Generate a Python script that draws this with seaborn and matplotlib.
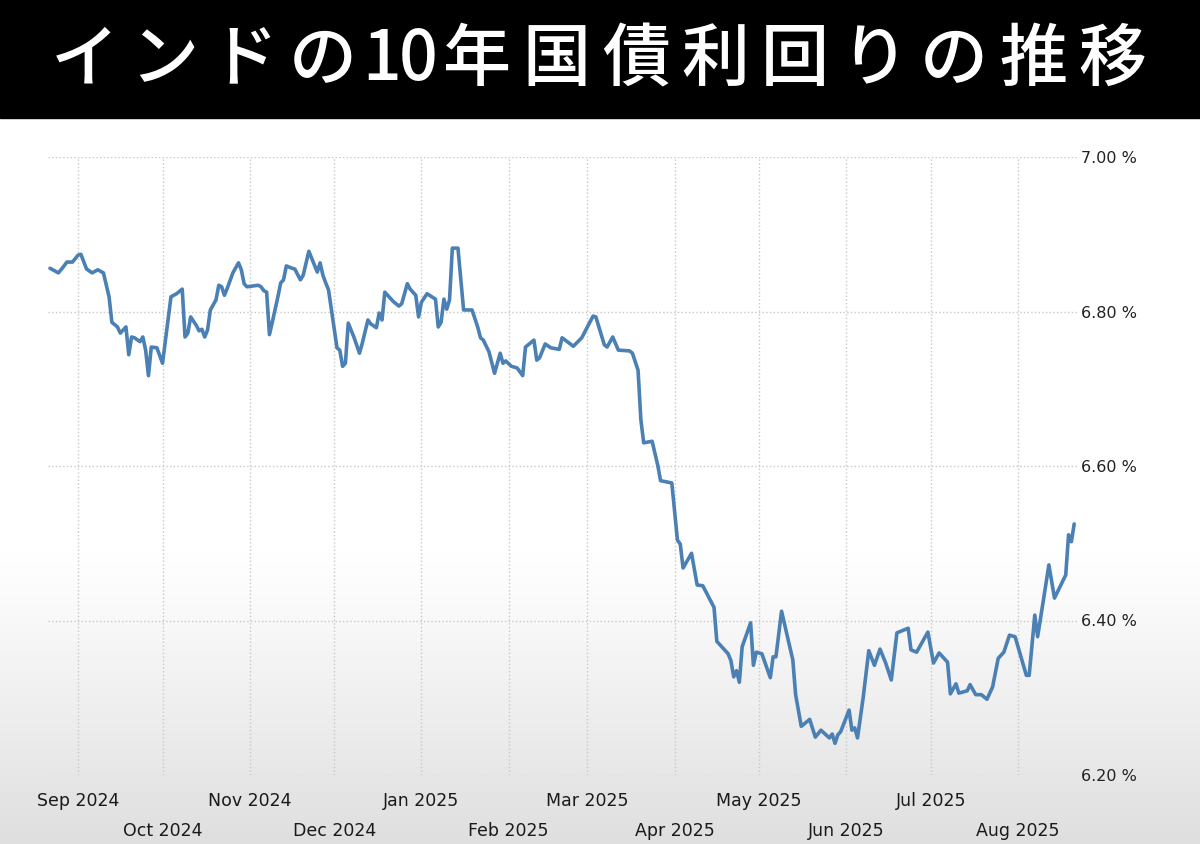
import numpy as np
import pandas as pd
import matplotlib
matplotlib.use("Agg")
import matplotlib.pyplot as plt
from matplotlib.patches import Rectangle
import seaborn as sns

# --- données (jours depuis le 1er sept. 2024, rendement en %) ---
day_offsets = [
    -10, -7, -5, -4, -2, 0, 1, 3, 5, 7, 9, 11, 12, 14, 15, 17, 18, 19, 20, 22,
    23, 24, 25, 26, 28, 30, 33, 35, 37, 38, 39, 40, 42, 43, 44, 45, 46, 47, 49, 50,
    51, 52, 53, 55, 57, 58, 59, 60, 64, 65, 66, 67, 68, 69, 71, 72, 73, 74, 76, 77,
    79, 80, 82, 83, 85, 86, 87, 88, 89, 92, 93, 94, 95, 96, 98, 100, 101, 103, 104, 106,
    107, 108, 109, 110, 112, 114, 115, 117, 118, 120, 121, 122, 124, 127, 128, 129, 130, 131, 132, 133,
    135, 137, 140, 142, 143, 144, 146, 148, 150, 151, 152, 154, 156, 158, 159, 162, 163, 164, 166, 168,
    171, 172, 176, 179, 183, 184, 187, 188, 190, 192, 196, 197, 199, 200, 201, 204, 206, 207, 211, 213,
    214, 215, 218, 220, 222, 226, 227, 231, 232, 233, 234, 235, 236, 239, 240, 241, 243, 246, 247, 248,
    250, 254, 255, 257, 260, 262, 264, 267, 268, 269, 270, 271, 274, 275, 276, 277, 279, 281, 283, 285,
    287, 289, 291, 295, 296, 298, 302, 304, 306, 309, 310, 312, 313, 316, 317, 319, 321, 323, 325, 327,
    329, 331, 333, 337, 338, 340, 341, 343, 345, 347, 351, 352, 353, 354,
]
yield_pct = [
    6.856, 6.850, 6.859, 6.864, 6.864, 6.873, 6.874, 6.855, 6.850, 6.854, 6.850, 6.819, 6.786, 6.780, 6.772, 6.780, 6.744, 6.767, 6.766, 6.761,
    6.767, 6.750, 6.717, 6.754, 6.753, 6.733, 6.819, 6.823, 6.829, 6.767, 6.772, 6.793, 6.782, 6.775, 6.777, 6.767, 6.776, 6.802, 6.815, 6.834,
    6.832, 6.821, 6.830, 6.850, 6.863, 6.854, 6.836, 6.832, 6.834, 6.832, 6.827, 6.825, 6.770, 6.786, 6.819, 6.837, 6.841, 6.859, 6.856, 6.855,
    6.841, 6.847, 6.878, 6.869, 6.851, 6.863, 6.847, 6.837, 6.828, 6.753, 6.750, 6.729, 6.733, 6.785, 6.767, 6.746, 6.759, 6.789, 6.784, 6.779,
    6.798, 6.789, 6.825, 6.821, 6.813, 6.807, 6.810, 6.836, 6.829, 6.821, 6.793, 6.812, 6.823, 6.816, 6.780, 6.786, 6.816, 6.803, 6.815, 6.882,
    6.882, 6.802, 6.802, 6.780, 6.766, 6.763, 6.748, 6.720, 6.746, 6.733, 6.736, 6.729, 6.727, 6.717, 6.754, 6.763, 6.737, 6.740, 6.758, 6.753,
    6.751, 6.766, 6.755, 6.766, 6.794, 6.793, 6.757, 6.754, 6.767, 6.750, 6.749, 6.746, 6.724, 6.660, 6.630, 6.632, 6.601, 6.581, 6.578, 6.504,
    6.499, 6.468, 6.487, 6.446, 6.445, 6.417, 6.373, 6.357, 6.348, 6.327, 6.335, 6.320, 6.366, 6.397, 6.342, 6.359, 6.357, 6.326, 6.353, 6.353,
    6.412, 6.349, 6.304, 6.263, 6.272, 6.249, 6.258, 6.248, 6.253, 6.241, 6.252, 6.256, 6.284, 6.258, 6.261, 6.248, 6.300, 6.361, 6.342, 6.363,
    6.345, 6.323, 6.384, 6.390, 6.362, 6.359, 6.385, 6.345, 6.358, 6.346, 6.305, 6.318, 6.306, 6.309, 6.317, 6.304, 6.304, 6.298, 6.314, 6.351,
    6.359, 6.381, 6.379, 6.329, 6.329, 6.407, 6.379, 6.425, 6.472, 6.429, 6.459, 6.511, 6.502, 6.525,
]

title_text = "インドの10年国債利回りの推移"
y_ticks = [6.20, 6.40, 6.60, 6.80, 7.00]
month_starts = pd.date_range("2024-09-01", "2025-08-01", freq="MS")

base = pd.Timestamp("2024-09-01")
df = pd.DataFrame({
    "date": base + pd.to_timedelta(day_offsets, unit="D"),
    "yield": yield_pct,
})

sns.set_style("white")
plt.rcParams["font.family"] = ["DejaVu Sans"]

W, H = 1200, 844
fig = plt.figure(figsize=(12, 8.44), dpi=100)

# fond dégradé (blanc -> gris clair en bas, effet capture vidéo)
bg = fig.add_axes([0, 0, 1, 1], zorder=-5)
rows = np.arange(H)
shade = np.where(rows < 540, 1.0, 1.0 - 0.13 * ((rows - 540) / (H - 540.0)) ** 1.1)
bg.imshow(np.repeat(shade[:, None], 2, axis=1), cmap="gray", vmin=0, vmax=1,
          aspect="auto", extent=[0, 1, 0, 1], origin="upper")
bg.axis("off")

# bandeau titre noir, caractères espacés
fig.patches.append(Rectangle((0, 1 - 118 / H), 1, 118 / H, transform=fig.transFigure,
                             color="black", zorder=2))
x_px = 45
for ch in title_text:
    adv = 37 if ch.isascii() else 79.5
    fig.text((x_px + adv / 2) / W, 1 - 60 / H, ch, color="white", fontsize=49,
             fontweight="medium", ha="center", va="center",
             family=["Noto Sans CJK JP", "DejaVu Sans"], zorder=3)
    x_px += adv

ax = fig.add_axes([48 / W, 1 - 775 / H, (1077 - 48) / W, (775 - 157) / H])
ax.set_facecolor("none")

sns.lineplot(data=df, x="date", y="yield", ax=ax, color="#4a80b4", linewidth=2.6)

ax.set_xlim(base - pd.Timedelta(days=10.7), base + pd.Timedelta(days=355))
ax.set_ylim(6.20, 7.00)

for s in ax.spines.values():
    s.set_visible(False)

ax.yaxis.tick_right()
ax.set_yticks(y_ticks)
ax.set_yticklabels([f"{v:.2f} %" for v in y_ticks])
ax.tick_params(axis="y", length=0, pad=3, labelsize=11.5, labelcolor="#222222")

major = month_starts[0::2]
minor = month_starts[1::2]
ax.set_xticks(major)
ax.set_xticklabels([d.strftime("%b %Y") for d in major])
ax.set_xticks(minor, minor=True)
ax.set_xticklabels([d.strftime("%b %Y") for d in minor], minor=True)
ax.tick_params(axis="x", which="major", length=7, color="#b0b0b0", pad=5,
               labelsize=12.5, labelcolor="#1a1a1a")
ax.tick_params(axis="x", which="minor", length=7, color="#b0b0b0", pad=27,
               labelsize=12.5, labelcolor="#1a1a1a")

ax.grid(True, axis="y", linestyle=":", color="#c8c8c8", linewidth=1)
ax.grid(True, axis="x", which="both", linestyle=":", color="#c8c8c8", linewidth=1)

ax.set_xlabel("")
ax.set_ylabel("")

fig.savefig("out.png", dpi=100)
